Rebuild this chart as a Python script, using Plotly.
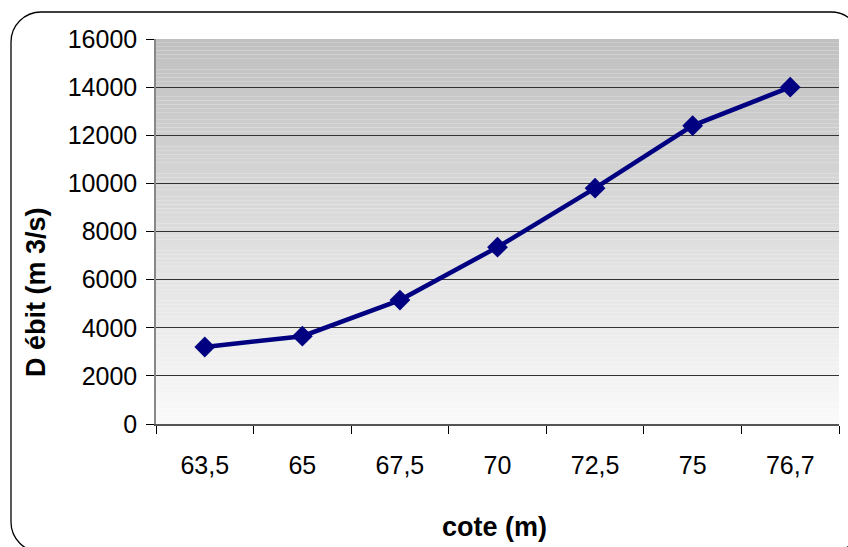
import plotly.graph_objects as go

# ---- data ----
cote_labels = ["63,5", "65", "67,5", "70", "72,5", "75", "76,7"]
debit = [3200, 3650, 5150, 7350, 9800, 12400, 14000]
y_ticks = [0, 2000, 4000, 6000, 8000, 10000, 12000, 14000, 16000]

W, H = 848, 547
L, R, T, B = 156, 9, 39, 123
PW, PH = W - L - R, H - T - B


def px(x):
    return (x - L) / PW


def py(y):
    return (H - B - y) / PH


fig = go.Figure()
fig.add_trace(go.Scatter(
    x=cote_labels, y=debit, mode="lines+markers",
    line=dict(color="#000080", width=4.5),
    marker=dict(symbol="diamond", size=16, color="#000080"),
    showlegend=False, hoverinfo="skip",
))

shapes = []
# vertical gradient background (light at bottom, darker gray at top)
N = 100
top_c, bot_c = 192, 250
for i in range(N):
    f = (i + 0.5) / N
    c = round(bot_c + (top_c - bot_c) * f)
    shapes.append(dict(type="rect", xref="x domain", yref="y domain",
                       x0=0, x1=1, y0=i / N, y1=(i + 1) / N,
                       fillcolor=f"rgb({c},{c},{c})", line=dict(width=0),
                       layer="below"))

# rounded frame around chart (partly outside the page)
x0, y0, x1, y1, r = 11, 12, 861, 552, 30
k = 0.5523 * r
pts = [
    ("M", [(x0, y1 - r)]),
    ("L", [(x0, y0 + r)]),
    ("C", [(x0, y0 + r - k), (x0 + r - k, y0), (x0 + r, y0)]),
    ("L", [(x1 - r, y0)]),
    ("C", [(x1 - r + k, y0), (x1, y0 + r - k), (x1, y0 + r)]),
    ("L", [(x1, y1 - r)]),
    ("C", [(x1, y1 - r + k), (x1 - r + k, y1), (x1 - r, y1)]),
    ("L", [(x0 + r, y1)]),
    ("C", [(x0 + r - k, y1), (x0, y1 - r + k), (x0, y1 - r)]),
]
path = ""
for cmd, ps in pts:
    path += cmd + " " + " ".join(f"{px(a):.5f},{py(b):.5f}" for a, b in ps) + " "
path += "Z"
shapes.append(dict(type="path", xref="paper", yref="paper", path=path,
                   line=dict(color="#000000", width=1.3), fillcolor="rgba(0,0,0,0)"))

font = "Liberation Sans, Arial, sans-serif"
fig.update_layout(
    width=W, height=H,
    margin=dict(l=L, r=R, t=T, b=B),
    paper_bgcolor="white", plot_bgcolor="white",
    font=dict(family=font, color="black"),
    shapes=shapes,
    xaxis=dict(
        type="category", range=[-0.5, 6.5], tickson="boundaries",
        ticks="outside", ticklen=8, tickcolor="black", tickwidth=1,
        showline=True, linecolor="#555555", linewidth=1.5,
        showgrid=False, tickfont=dict(size=25, family=font, color="black"),
        ticklabelstandoff=18,
    ),
    yaxis=dict(
        range=[0, 16000], tickvals=y_ticks, ticktext=[str(v) for v in y_ticks],
        ticks="outside", ticklen=8, tickcolor="black", tickwidth=1,
        showline=True, linecolor="#888888", linewidth=1.5,
        showgrid=True, gridcolor="#333333", gridwidth=1, zeroline=False,
        tickfont=dict(size=25, family=font, color="black"),
        ticklabelstandoff=4,
    ),
    annotations=[
        dict(text="<b>D ébit (m 3/s)</b>", xref="paper", yref="paper",
             x=px(36), y=py(292), textangle=-90, showarrow=False,
             font=dict(size=27, family=font, color="black"),
             xanchor="center", yanchor="middle"),
        dict(text="<b>cote (m)</b>", xref="paper", yref="paper",
             x=px(494), y=py(527), showarrow=False,
             font=dict(size=27, family=font, color="black"),
             xanchor="center", yanchor="middle"),
    ],
)

fig.write_html("out.html")
